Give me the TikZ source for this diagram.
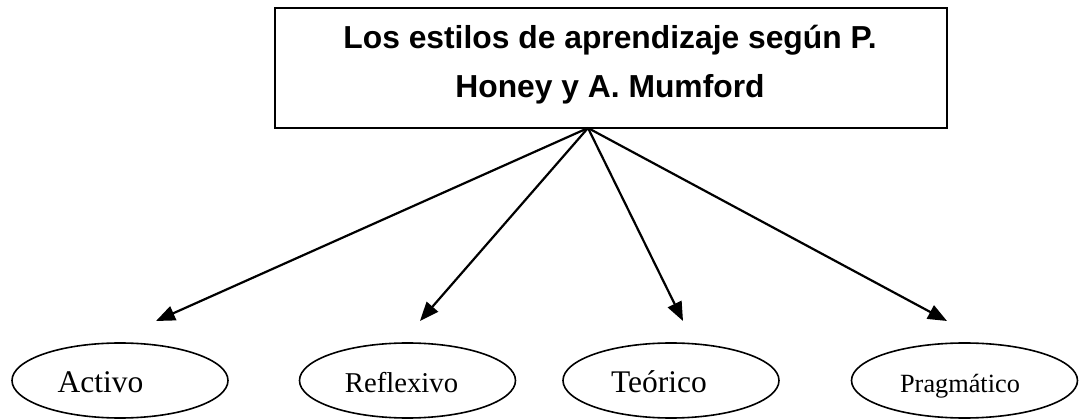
\documentclass[tikz,border=0pt]{standalone}
\usepackage{fontspec}
\setmainfont{Liberation Serif}
\setsansfont{Liberation Sans}
\usetikzlibrary{shapes.geometric,arrows.meta}
\begin{document}
\begin{tikzpicture}[x=1pt,y=-1pt,
  titlebox/.style={draw,line width=2.2pt,minimum width=672pt,minimum height=120pt,inner sep=0pt},
  titletext/.style={font=\sffamily\bfseries\fontsize{31.8}{36}\selectfont,anchor=base,inner sep=0pt},
  styleell/.style={draw,ellipse,line width=1.6pt,minimum width=216pt,minimum height=75pt,inner sep=0pt},
  elltext/.style={anchor=base,inner sep=0pt},
  arr/.style={line width=2.2pt,-{Triangle[length=19pt,width=15pt]}}]
\useasboundingbox (0,0) rectangle (1079,419);
\node[titlebox] (box) at (611,68) {};
\node[titletext] (l1) at (610,49) {Los estilos de aprendizaje según P.};
\node[titletext] (l2) at (610,98) {Honey y A. Mumford};
\coordinate (o) at (588,128);
\coordinate (p1) at (156,321);
\coordinate (p2) at (420,321);
\coordinate (p3) at (683,321);
\coordinate (p4) at (947,321);
\node[styleell] (e1) at (120,380.5) {};
\node[styleell] (e2) at (407.5,380.5) {};
\node[styleell] (e3) at (671,380.5) {};
\node[styleell,minimum width=226pt] (e4) at (964.5,380.5) {};
\node[elltext,font=\fontsize{31.5}{36}\selectfont] (t1) at (100.5,393) {Activo};
\node[elltext,font=\fontsize{28.7}{33}\selectfont] (t2) at (401.5,392) {Reflexivo};
\node[elltext,font=\fontsize{31.5}{36}\selectfont] (t3) at (659,393) {Teórico};
\node[elltext,font=\fontsize{26.3}{30}\selectfont] (t4) at (960,392) {Pragmático};
\draw[arr] (o) -- (p1);
\draw[arr] (o) -- (p2);
\draw[arr] (o) -- (p3);
\draw[arr] (o) -- (p4);
\end{tikzpicture}
\end{document}
